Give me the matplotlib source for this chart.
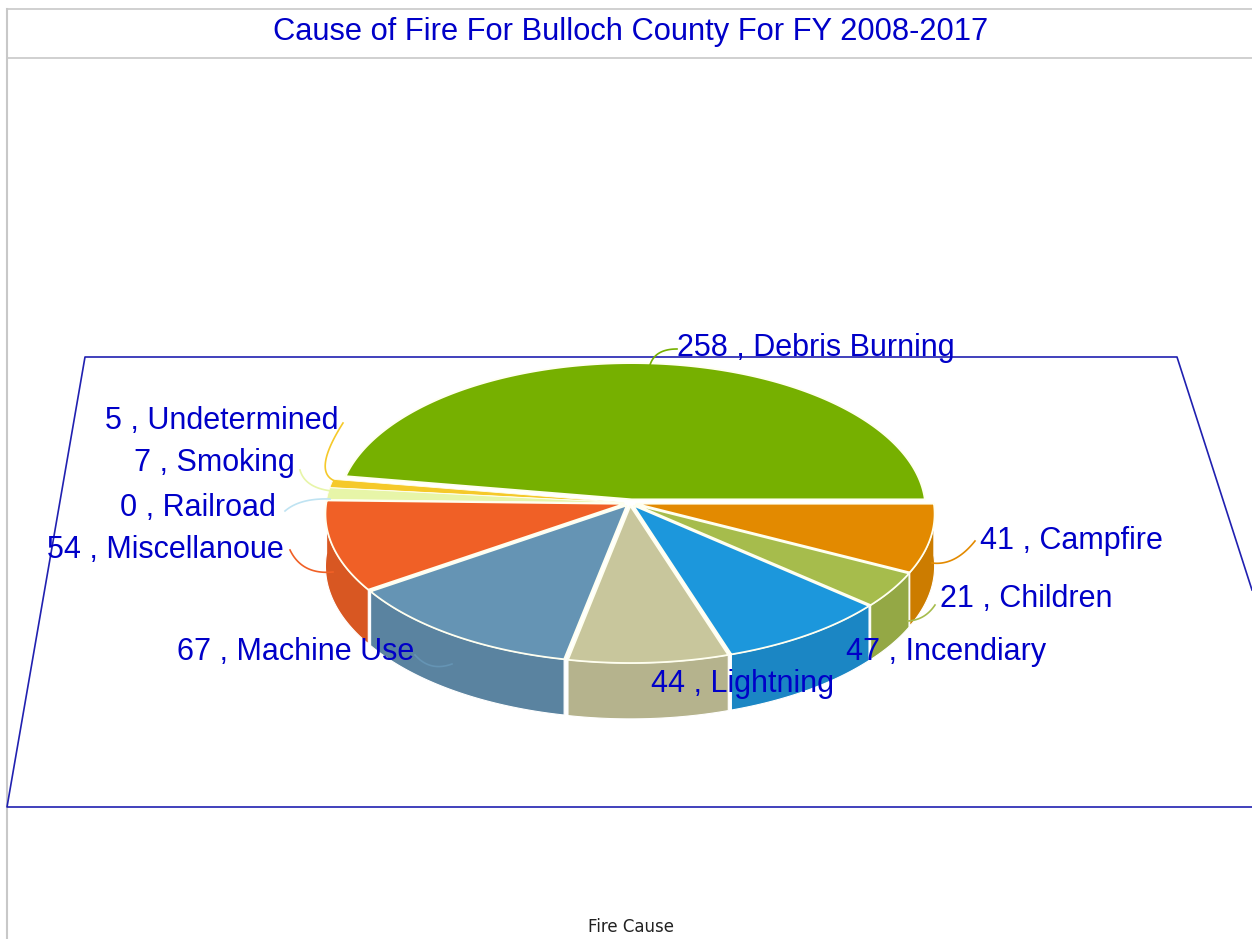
import numpy as np
import matplotlib
matplotlib.use("Agg")
import matplotlib.pyplot as plt

# slices in drawing order, counter clockwise from east
causes = ["Debris Burning", "Undetermined", "Smoking", "Railroad", "Miscellanoue",
          "Machine Use", "Lightning", "Incendiary", "Children", "Campfire"]
fires = [258, 5, 7, 0, 54, 67, 44, 47, 21, 41]
top_colors = ["#76B000", "#F5C92A", "#E7F5A8", "#BFE3F2", "#F06026",
              "#6594B4", "#C8C69C", "#1C97DC", "#A6BC4C", "#E38A00"]
side_colors = ["#689C00", "#D9B125", "#CDDA95", "#A9C9D6", "#D85722",
               "#5A83A0", "#B5B38D", "#1B86C4", "#94A845", "#CC7C00"]

# label anchor (left edge, centre y) and the leader curve for each cause
label_pos = {
    "Debris Burning": (677, 348), "Undetermined": (105, 421), "Smoking": (134, 463),
    "Railroad": (120, 508), "Miscellanoue": (47, 550), "Machine Use": (177, 652),
    "Lightning": (651, 684), "Incendiary": (846, 652), "Children": (940, 599),
    "Campfire": (980, 541),
}
leaders = {
    "Debris Burning": ((677, 349), (655, 349), (650, 365)),
    "Undetermined": ((343, 423), (312, 472), (335, 481)),
    "Smoking": ((300, 470), (305, 488), (332, 491)),
    "Railroad": ((285, 511), (300, 498), (330, 499)),
    "Miscellanoue": ((290, 550), (302, 575), (333, 572)),
    "Machine Use": ((415, 655), (430, 672), (452, 664)),
    "Campfire": ((975, 541), (955, 566), (932, 563)),
    "Children": ((935, 605), (925, 620), (908, 621)),
}

CX, CY = 630, 503
RX, RY = 298, 146
PERSP = 0.068
DEPTH = 52
GAP = 0.02


def project(u, v):
    s = 1 / (1 + PERSP * v)
    return CX + RX * u * s, CY - RY * v * s, s


fig = plt.figure(figsize=(12.52, 9.39), dpi=100)
ax = fig.add_axes([0, 0, 1, 1])
ax.set_xlim(0, 1252)
ax.set_ylim(939, 0)
ax.axis("off")

blue = "#0000C8"
gray = "#C8C8C8"

# chart panel
ax.plot([7, 7], [939, 9], color=gray, lw=1.5)
ax.plot([7, 1252], [9, 9], color=gray, lw=1.2)
ax.plot([7, 1252], [58, 58], color=gray, lw=1.2)

# floor of the 3d scene
ax.plot([1252, 1177, 85, 7, 1252], [590, 357, 357, 807, 807], color="#2020B0", lw=1.2)

ax.text(631, 32, "Cause of Fire For Bulloch County For FY 2008-2017",
        family="Liberation Sans", fontsize=22.2, color=blue, ha="center", va="center")
ax.text(631, 927, "Fire Cause", family="DejaVu Sans", fontsize=12, color="#222222",
        ha="center", va="center")

edges = np.cumsum([0] + fires) / sum(fires) * 2 * np.pi
mids = (edges[:-1] + edges[1:]) / 2
order = np.argsort(-np.sin(mids))

# walls, back to front
for i in order:
    if fires[i] == 0:
        continue
    t = np.linspace(edges[i], edges[i + 1], 120)
    t = t[np.sin(t) <= 0.02]
    if len(t) < 2:
        continue
    ou, ov = GAP * np.cos(mids[i]), GAP * np.sin(mids[i])
    x, y, s = project(ou + np.cos(t), ov + np.sin(t))
    ax.fill(np.r_[x, x[::-1]], np.r_[y, (y + DEPTH * s)[::-1]], color=side_colors[i],
            ec="white", lw=0.8, zorder=2)

# top faces
for i in order:
    if fires[i] == 0:
        continue
    t = np.linspace(edges[i], edges[i + 1], 200)
    if i == 0:
        # the big slice sits a little narrower and further back in the reference
        ou, ov = 0.006, 0.025
        u = np.r_[ou, ou + 0.985 * np.cos(t)]
        v = np.r_[ov, ov + np.sin(t)]
    else:
        ou, ov = GAP * np.cos(mids[i]), GAP * np.sin(mids[i])
        u = np.r_[ou, ou + np.cos(t)]
        v = np.r_[ov, ov + np.sin(t)]
    x, y, _ = project(u, v)
    lw = 0.6 if fires[i] < 10 else 1.3
    ax.fill(x, y, facecolor=top_colors[i], edgecolor="#FFFFF0", lw=lw, joinstyle="miter", zorder=3)

# leaders
for c, ((x0, y0), (x1, y1), (x2, y2)) in leaders.items():
    i = causes.index(c)
    p = np.linspace(0, 1, 40)
    lx = (1 - p) ** 2 * x0 + 2 * p * (1 - p) * x1 + p ** 2 * x2
    ly = (1 - p) ** 2 * y0 + 2 * p * (1 - p) * y1 + p ** 2 * y2
    ax.plot(lx, ly, color=top_colors[i], lw=1.2, zorder=4)

for c, f in zip(causes, fires):
    x, y = label_pos[c]
    ax.text(x, y, f"{f} , {c}", family="Liberation Sans", fontsize=22, color=blue,
            ha="left", va="center", zorder=5)

fig.savefig("out.png", dpi=100)
